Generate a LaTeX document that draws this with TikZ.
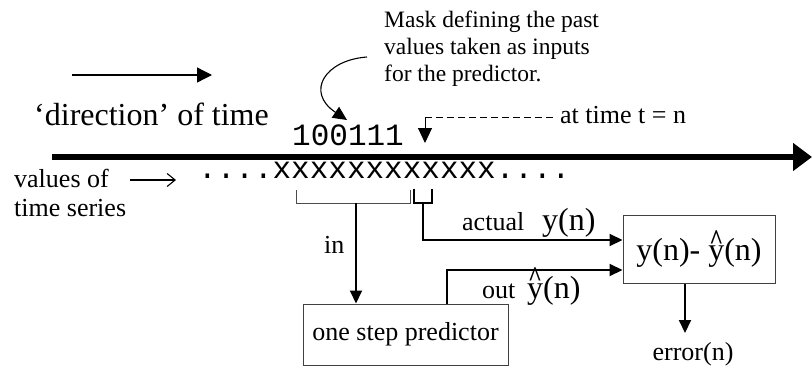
\documentclass[tikz,border=0pt]{standalone}
\usepackage{graphicx}
\usepackage{fontspec}
\setmainfont{Liberation Serif}
\setmonofont{Liberation Mono}
\usetikzlibrary{arrows.meta}
\newcommand\hy{\makebox[0pt][l]{\makebox[0.5em][c]{\raisebox{0.35em}{\scalebox{0.75}[0.9]{\bfseries\symbol{94}}}}}y}
\begin{document}
\begin{tikzpicture}[x=1pt,y=-1pt,
  txt/.style={inner sep=0pt, anchor=base west, font=\fontsize{26}{28}\selectfont},
  note/.style={inner sep=0pt, anchor=base west, font=\fontsize{23.5}{26}\selectfont},
  big/.style={inner sep=0pt, anchor=base west, font=\fontsize{32}{34}\selectfont},
  mono/.style={inner sep=0pt, anchor=base west, font=\ttfamily\fontsize{31}{31}\selectfont},
  box/.style={draw=black!75, line width=1pt, inner sep=0pt, font=\fontsize{26}{28}\selectfont},
  conn/.style={line width=2pt, -{Triangle[length=13pt,width=12pt]}},
  brk/.style={draw=black!70, line width=1pt},
]
\useasboundingbox (0,0) rectangle (812,367);

% time axis
\coordinate (ax0) at (52,157);
\coordinate (ax1) at (812,157);
\draw[line width=6pt, -{Triangle[length=19pt,width=27pt]}] (ax0) -- (ax1);

% direction arrow and text
\coordinate (d0) at (72,75);
\coordinate (d1) at (212,75);
\draw[line width=1.3pt, -{Triangle[length=15pt,width=15pt]}] (d0) -- (d1);
\node[big] (dir) at (34,125) {`direction' of time};

% mask text
\node[note] (m1) at (384,27) {Mask defining the past};
\node[note] (m2) at (384,54) {values taken as inputs};
\node[note] (m3) at (384,81) {for the predictor.};
\coordinate (c0) at (367,57);
\coordinate (c1) at (347,120);
\draw[line width=1.1pt, -{Triangle[length=14pt,width=13pt]}] (c0) .. controls (325,60) and (305,92) .. (c1);

% mask and series
\node[mono] (mask) at (292,145) {100111};
\node[mono] (series) at (198,178) {....xxxxxxxxxxxx....};

% time t = n marker
\node[txt] (tn) at (560,123) {at time t = n};
\coordinate (t0) at (425,117);
\coordinate (t1) at (425,143);
\draw[line width=1pt, -{Triangle[length=15pt,width=14pt]}] (t0) -- (t1);
\draw[line width=1pt, dash pattern=on 7pt off 4pt] (t0) -- ([xshift=-6pt]tn.west |- t0);

% values of time series
\node[txt] (v1) at (14,187) {values of};
\node[txt] (v2) at (14,216) {time series};
\coordinate (va0) at (130,180);
\coordinate (va1) at (176,180);
\draw[line width=1.1pt, -{Straight Barb[length=8pt,width=13pt]}] (va0) -- (va1);

% brackets
\coordinate (bl1) at (296,190);
\coordinate (br1) at (410,190);
\coordinate (bm) at (356,203);
\draw[brk] (bl1) -- (296,203) -- (410,203) -- (br1);
\coordinate (sl1) at (414,189);
\coordinate (sr1) at (432,189);
\coordinate (sm) at (423,203);
\draw[line width=1.8pt] (sl1) -- (414,203) -- (432,203) -- (sr1);

% boxes
\node[box, minimum width=205pt, minimum height=61pt] (pred) at (405.5,334.5) {one step predictor};
\node[box, minimum width=152pt, minimum height=68pt, font=\fontsize{32}{34}\selectfont] (err) at (699,249) {y(n)- \hy(n)};

% connectors
\draw[conn] (bm) -- (bm |- pred.north);
\node[txt] (in) at (324,253) {in};
\draw[conn] (sm) |- ([yshift=9pt]err.west);
\node[txt] (act) at (462,230) {actual};
\node[big] (yn) at (542,230) {y(n)};
\draw[conn] ([xshift=41.5pt]pred.north) |- ([yshift=-21pt]err.west);
\node[txt] (out) at (482,298) {out};
\node[big] (yh) at (527,298) {\hy(n)};
\coordinate (et) at (685,333);
\draw[conn] (err.south -| et) -- (et);
\node[txt, anchor=base] (error) at (693,360) {error(n)};
\end{tikzpicture}
\end{document}
